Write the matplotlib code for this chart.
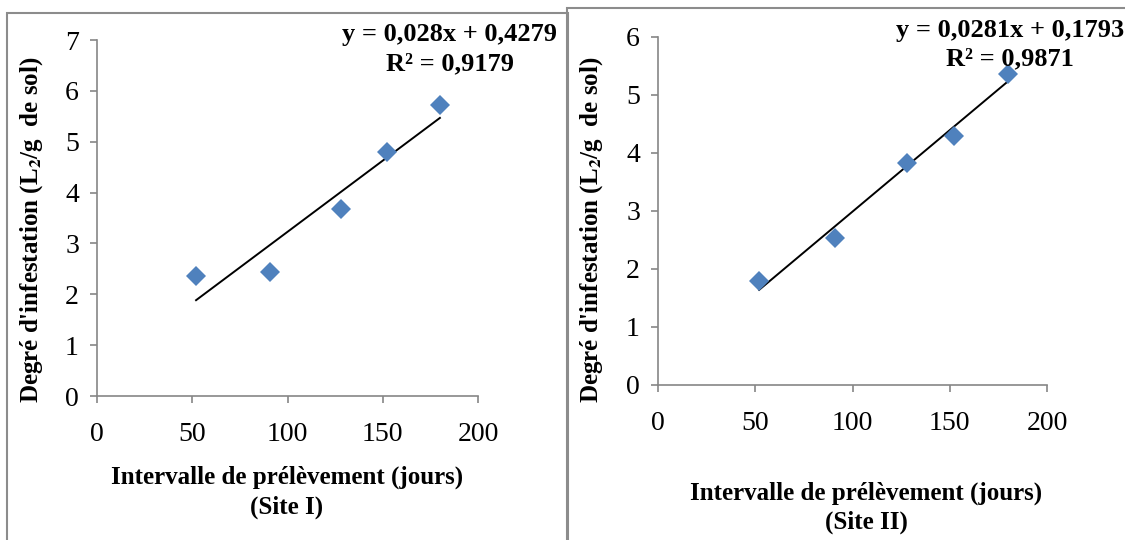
import matplotlib
matplotlib.use('Agg')
import matplotlib.pyplot as plt
import numpy as np
from matplotlib.patches import Rectangle

plt.rcParams['font.family'] = ['Liberation Serif', 'DejaVu Serif']
plt.rcParams['mathtext.fontset'] = 'stix'

# data
jours = [52, 91, 128, 152, 180]
site1 = [2.35, 2.43, 3.67, 4.80, 5.72]
site2 = [1.80, 2.53, 3.82, 4.30, 5.37]

# trend line coefficients as printed on the chart
pente = [0.028, 0.0281]
origine = [0.4279, 0.1793]
r2 = ['0,9179', '0,9871']
eq_txt = ['y = 0,028x + 0,4279', 'y = 0,0281x + 0,1793']
sites = ['(Site I)', '(Site II)']
ymax = [7, 6]

W, H = 1125, 540
fig = plt.figure(figsize=(W / 100, H / 100), dpi=100)


def px(x0, y0, x1, y1):
    # pixel box -> figure fraction [left, bottom, width, height]
    return [x0 / W, 1 - y1 / H, (x1 - x0) / W, (y1 - y0) / H]


def fx(x, y):
    return x / W, 1 - y / H


# panel frames
fig.add_artist(Rectangle(fx(7, 560), (568 - 7) / W, (560 - 13) / H,
                         transform=fig.transFigure, fill=False, ec='#8c8c8c', lw=1.5))
fig.add_artist(Rectangle(fx(567, 560), (1140 - 567) / W, (560 - 8) / H,
                         transform=fig.transFigure, fill=False, ec='#8c8c8c', lw=1.5))

boxes = [px(97, 40, 478, 396), px(658, 37, 1047, 385)]
eq_pos = [(450, 34, 64), (1010, 30, 59)]
ylab_pos = [(32, 230), (592, 230)]
xlab_pos = [(287, 477, 507), (866, 493, 522)]

for i, y in enumerate([site1, site2]):
    ax = fig.add_axes(boxes[i])
    ax.plot(jours, y, linestyle='none', marker='D', ms=10.5, color='#4F81BD',
            markeredgewidth=0, zorder=3)
    xs = np.array([jours[0], jours[-1]])
    ax.plot(xs, pente[i] * xs + origine[i], color='black', lw=1.4, zorder=2)

    ax.set_xlim(0, 200)
    ax.set_ylim(0, ymax[i])
    ax.set_xticks(range(0, 201, 50))
    ax.set_yticks(range(0, ymax[i] + 1))
    for s in ['top', 'right']:
        ax.spines[s].set_visible(False)
    for s in ['left', 'bottom']:
        ax.spines[s].set_color('#868686')
        ax.spines[s].set_linewidth(1.2)
    ax.tick_params(direction='out', length=5, width=1.2, color='#868686',
                   labelsize=20)
    ax.tick_params(axis='x', pad=14)
    ax.tick_params(axis='y', pad=8)

    ex, ey1, ey2 = eq_pos[i]
    fig.text(*fx(ex, ey1), eq_txt[i], ha='center', va='center',
             fontsize=19, fontweight='bold')
    fig.text(*fx(ex, ey2), 'R² = ' + r2[i], ha='center', va='center',
             fontsize=19, fontweight='bold')

    lx, ly = ylab_pos[i]
    fig.text(*fx(lx, ly), r"Degré d'infestation (L$_\mathbf{2}$/g  de sol)",
             rotation=90, ha='center', va='center', fontsize=18, fontweight='bold')

    cx, t1, t2 = xlab_pos[i]
    fig.text(*fx(cx, t1), 'Intervalle de prélèvement (jours)', ha='center',
             va='center', fontsize=18, fontweight='bold')
    fig.text(*fx(cx, t2), sites[i], ha='center', va='center',
             fontsize=18, fontweight='bold')

fig.savefig('out.png', dpi=100)
